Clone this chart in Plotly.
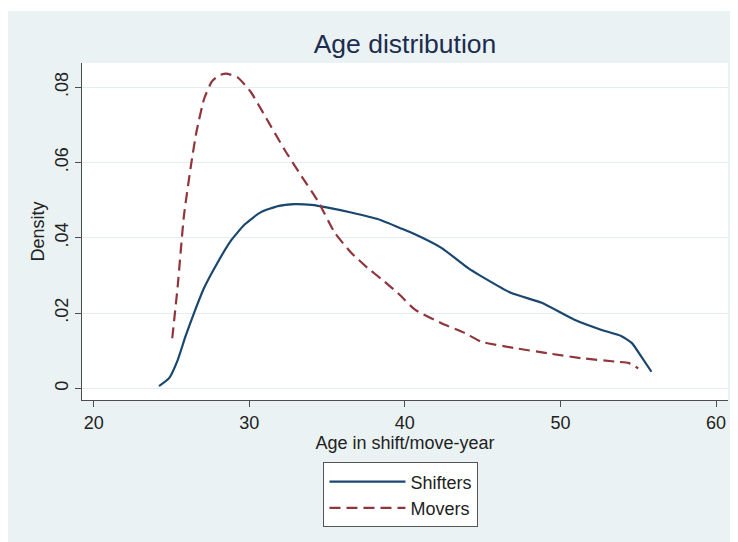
import plotly.graph_objects as go

# ---- data ----
shifters_age = [24.2, 24.85, 25.4, 25.9, 26.45, 27.1, 27.95, 28.8, 29.7, 30.75,
                31.85, 32.9, 34.0, 35.05, 36.55, 38.3, 39.8, 40.65, 42.35, 44.05,
                44.9, 46.85, 48.8, 50.9, 52.65, 53.9, 54.6, 55.2, 55.85]
shifters_density = [0.0006, 0.0027, 0.0075, 0.0138, 0.0200, 0.0267, 0.0333, 0.0391, 0.0435, 0.0468,
                    0.0484, 0.0489, 0.0487, 0.0480, 0.0467, 0.0449, 0.0424, 0.0409, 0.0373, 0.0320,
                    0.0298, 0.0253, 0.0227, 0.0182, 0.0155, 0.0139, 0.0120, 0.0084, 0.0044]

movers_age = [25.05, 25.4, 25.8, 26.25, 26.6, 27.1, 27.6, 28.05, 28.5, 29.25, 30.1,
              31.0, 32.25, 33.35, 34.4, 35.5, 36.55, 37.6, 38.5, 39.55, 40.65,
              42.35, 43.85, 44.9, 47.05, 49.2, 51.35, 53.5, 54.4, 55.0]
movers_density = [0.0133, 0.0271, 0.0458, 0.0591, 0.0680, 0.0769, 0.0815, 0.0831, 0.0836, 0.0826, 0.0787,
                  0.0724, 0.0635, 0.0564, 0.0498, 0.0413, 0.0360, 0.0320, 0.0290, 0.0253, 0.0209,
                  0.0173, 0.0147, 0.0124, 0.0107, 0.0093, 0.0080, 0.0071, 0.0067, 0.0053]

x_ticks = [20, 30, 40, 50, 60]
y_ticks = [0, 0.02, 0.04, 0.06, 0.08]
y_ticklabels = ["0", ".02", ".04", ".06", ".08"]

FONT = "Liberation Sans, Arial, sans-serif"
BG = "#eaf2f3"
NAVY = "#1a476f"
MAROON = "#90353b"
AXIS = "#4d4d4d"
TXT = "#222222"

W, H = 730, 534  # page has an 8px body margin

fig = go.Figure()
fig.add_trace(go.Scatter(x=shifters_age, y=shifters_density, mode="lines", name="Shifters",
                         line=dict(color=NAVY, width=2.2, shape="spline", smoothing=0.5)))
fig.add_trace(go.Scatter(x=movers_age, y=movers_density, mode="lines", name="Movers",
                         line=dict(color=MAROON, width=2.2, dash="11px,6px", shape="spline", smoothing=0.5)))

fig.update_layout(
    width=W, height=H,
    margin=dict(l=73.7, r=10, t=55, b=142, autoexpand=False),
    paper_bgcolor=BG,
    plot_bgcolor="white",
    font=dict(family=FONT, size=18, color=TXT),
    title=dict(text="Age distribution", x=0.5, xref="paper", xanchor="center",
               y=1 - 36 / H, yref="container", yanchor="middle",
               font=dict(family=FONT, size=26.5, color="#1c2d4f")),
    xaxis=dict(range=[19.25, 60.77], tickvals=x_ticks, showgrid=False, zeroline=False,
               showline=True, linecolor=AXIS, linewidth=1.3,
               ticks="outside", ticklen=6, tickcolor=AXIS, tickwidth=1.3,
               tickfont=dict(size=18, color=TXT),
               title=dict(text="Age in shift/move-year", font=dict(size=18, color=TXT), standoff=0)),
    yaxis=dict(range=[-0.0031, 0.0864], tickvals=y_ticks, ticktext=y_ticklabels, tickangle=-90,
               showgrid=True, gridcolor="#e4edef", gridwidth=1.2, zeroline=False,
               showline=True, linecolor=AXIS, linewidth=1.3,
               ticks="outside", ticklen=6, tickcolor=AXIS, tickwidth=1.3,
               tickfont=dict(size=18, color=TXT),
               title=dict(text="Density", font=dict(size=18, color=TXT), standoff=2)),
    legend=dict(x=0.3738, y=-0.185, xanchor="left", yanchor="top", orientation="v",
                bgcolor="white", bordercolor="#555555", borderwidth=1,
                font=dict(size=18, color=TXT), itemwidth=76,
                tracegroupgap=0),
    shapes=[dict(type="rect", xref="paper", yref="paper", x0=-0.2, x1=1.1,
                 y0=1.1543, y1=1.25, fillcolor="white", line=dict(width=0), layer="below")],
)

fig.write_html("out.html")
